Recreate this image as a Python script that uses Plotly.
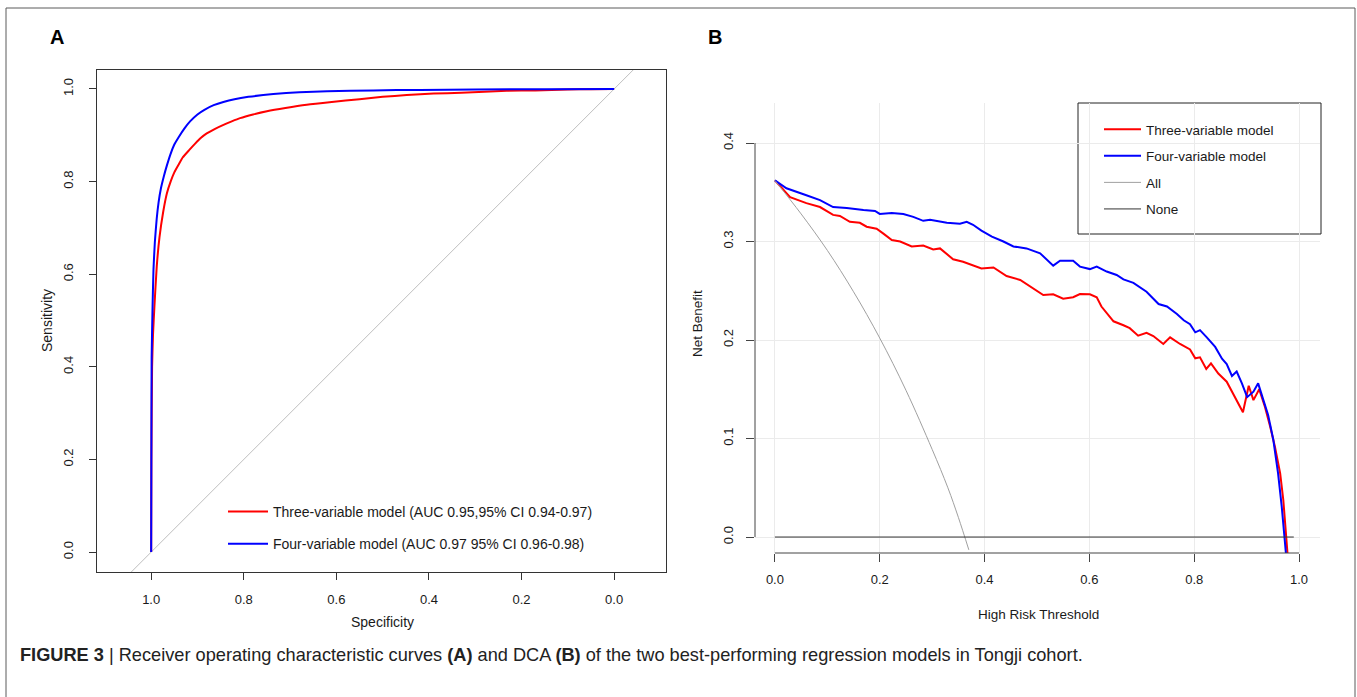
import plotly.graph_objects as go

W, H = 1357, 697

# ---------------- Panel A: ROC data ----------------
roc3_spec = [1.000, 0.9995, 0.998, 0.996, 0.993, 0.988, 0.982, 0.974, 0.966, 0.958, 0.950, 0.940,
             0.932, 0.918, 0.905, 0.893, 0.880, 0.862, 0.845, 0.826, 0.808, 0.780, 0.750, 0.710,
             0.664, 0.610, 0.550, 0.500, 0.448, 0.390, 0.330, 0.280, 0.232, 0.170, 0.100, 0.050, 0.000]
roc3_sens = [0.000, 0.200, 0.400, 0.470, 0.530, 0.616, 0.680, 0.735, 0.775, 0.800, 0.820, 0.838,
             0.852, 0.868, 0.882, 0.894, 0.904, 0.914, 0.922, 0.930, 0.937, 0.945, 0.952, 0.959,
             0.966, 0.972, 0.978, 0.983, 0.987, 0.990, 0.992, 0.994, 0.996, 0.997, 0.999, 0.9995, 1.000]

roc4_spec = [1.000, 0.9995, 0.999, 0.997, 0.995, 0.992, 0.988, 0.984, 0.979, 0.973, 0.966, 0.958,
             0.950, 0.940, 0.928, 0.916, 0.900, 0.885, 0.865, 0.844, 0.820, 0.790, 0.736, 0.680,
             0.620, 0.520, 0.420, 0.300, 0.150, 0.000]
roc4_sens = [0.000, 0.250, 0.420, 0.530, 0.610, 0.670, 0.720, 0.755, 0.785, 0.810, 0.835, 0.860,
             0.880, 0.897, 0.915, 0.930, 0.945, 0.955, 0.965, 0.972, 0.978, 0.983, 0.989, 0.993,
             0.995, 0.997, 0.998, 0.999, 0.9995, 1.000]

diag_spec = [1.3, -0.3]
diag_sens = [-0.3, 1.3]

roc_ticks = [1.0, 0.8, 0.6, 0.4, 0.2, 0.0]
roc_yticks = [0.0, 0.2, 0.4, 0.6, 0.8, 1.0]

label3_roc = "Three-variable model (AUC 0.95,95% CI 0.94-0.97)"
label4_roc = "Four-variable model (AUC 0.97 95% CI 0.96-0.98)"

# ---------------- Panel B: DCA data ----------------
dca3_t = [0.000, 0.029, 0.060, 0.086, 0.111, 0.124, 0.143, 0.162, 0.175, 0.194, 0.207, 0.223,
          0.239, 0.261, 0.283, 0.302, 0.315, 0.340, 0.359, 0.372, 0.394, 0.417, 0.442, 0.468,
          0.487, 0.512, 0.531, 0.550, 0.569, 0.582, 0.601, 0.614, 0.623, 0.646, 0.665, 0.677,
          0.693, 0.703, 0.709, 0.722, 0.741, 0.754, 0.773, 0.792, 0.802, 0.811, 0.823, 0.832,
          0.846, 0.862, 0.872, 0.881, 0.893, 0.904, 0.913, 0.924, 0.935, 0.945, 0.954, 0.964,
          0.970, 0.975, 0.978]
dca3_nb = [0.362, 0.345, 0.339, 0.335, 0.327, 0.326, 0.320, 0.319, 0.315, 0.313, 0.308, 0.3015,
           0.300, 0.295, 0.296, 0.292, 0.293, 0.282, 0.2795, 0.277, 0.2727, 0.2737, 0.265, 0.261,
           0.254, 0.2457, 0.2464, 0.242, 0.2434, 0.2467, 0.2464, 0.2434, 0.234, 0.219, 0.215, 0.212,
           0.2044, 0.206, 0.2074, 0.204, 0.196, 0.2027, 0.196, 0.1905, 0.1814, 0.1824, 0.1706, 0.1763,
           0.166, 0.1577, 0.1476, 0.1398, 0.1266, 0.1536, 0.139, 0.150, 0.132, 0.112, 0.0917, 0.0647,
           0.0376, 0.0037, -0.0166]

dca4_t = [0.000, 0.022, 0.060, 0.086, 0.111, 0.137, 0.169, 0.191, 0.200, 0.223, 0.245, 0.264,
          0.283, 0.296, 0.328, 0.353, 0.366, 0.378, 0.394, 0.414, 0.436, 0.455, 0.480, 0.506,
          0.531, 0.544, 0.569, 0.582, 0.601, 0.614, 0.633, 0.652, 0.665, 0.684, 0.709, 0.732,
          0.748, 0.767, 0.780, 0.792, 0.802, 0.811, 0.824, 0.840, 0.853, 0.862, 0.872, 0.881,
          0.891, 0.901, 0.913, 0.922, 0.932, 0.941, 0.951, 0.960, 0.967, 0.971, 0.975]
dca4_nb = [0.362, 0.354, 0.347, 0.342, 0.335, 0.334, 0.332, 0.331, 0.328, 0.329, 0.328, 0.325,
           0.321, 0.322, 0.319, 0.318, 0.320, 0.317, 0.311, 0.305, 0.300, 0.295, 0.293, 0.288,
           0.2755, 0.2805, 0.2805, 0.2745, 0.272, 0.2745, 0.2695, 0.266, 0.2616, 0.258, 0.249, 0.2365,
           0.234, 0.2264, 0.220, 0.216, 0.2078, 0.210, 0.2027, 0.193, 0.181, 0.1756, 0.1635, 0.168,
           0.156, 0.142, 0.1476, 0.156, 0.139, 0.124, 0.0985, 0.0647, 0.0308, 0.0037, -0.0166]

all_t = [0.00, 0.05, 0.10, 0.15, 0.20, 0.25, 0.30, 0.33, 0.35, 0.37]
all_nb = [0.362, 0.328, 0.291, 0.249, 0.202, 0.149, 0.089, 0.050, 0.020, -0.013]

none_t = [0.00, 0.99]
none_nb = [0.0, 0.0]

dca_xticks = [0.0, 0.2, 0.4, 0.6, 0.8, 1.0]
dca_yticks = [0.0, 0.1, 0.2, 0.3, 0.4]

# ---------------- helpers ----------------
def px_x(p):
    return p / W

def px_y(p):
    return 1 - p / H

FONT = "Liberation Sans, Arial, Helvetica, sans-serif"
TXT = "#1a1a1a"
RED = "#FF0000"
BLUE = "#0000FF"

fig = go.Figure()

# Panel A traces
fig.add_trace(go.Scatter(x=diag_spec, y=diag_sens, mode="lines", line=dict(color="#BEBEBE", width=1),
                         showlegend=False, hoverinfo="skip", xaxis="x", yaxis="y"))
fig.add_trace(go.Scatter(x=roc3_spec, y=roc3_sens, mode="lines",
                         line=dict(color=RED, width=2, shape="spline", smoothing=0.5),
                         name=label3_roc, legend="legend", legendgroup="a3", xaxis="x", yaxis="y"))
fig.add_trace(go.Scatter(x=roc4_spec, y=roc4_sens, mode="lines",
                         line=dict(color=BLUE, width=2, shape="spline", smoothing=0.5),
                         name=label4_roc, legend="legend", legendgroup="a4", xaxis="x", yaxis="y"))

# Panel B traces
fig.add_trace(go.Scatter(x=dca3_t, y=dca3_nb, mode="lines", line=dict(color=RED, width=2),
                         name="Three-variable model", legend="legend2", legendgroup="b1",
                         xaxis="x2", yaxis="y2"))
fig.add_trace(go.Scatter(x=dca4_t, y=dca4_nb, mode="lines", line=dict(color=BLUE, width=2),
                         name="Four-variable model", legend="legend2", legendgroup="b2",
                         xaxis="x2", yaxis="y2"))
fig.add_trace(go.Scatter(x=all_t, y=all_nb, mode="lines", line=dict(color="#A0A0A0", width=1, shape="spline"),
                         name="All", legend="legend2", legendgroup="b3", xaxis="x2", yaxis="y2"))
fig.add_trace(go.Scatter(x=none_t, y=none_nb, mode="lines", line=dict(color="#333333", width=1),
                         name="None", legend="legend2", legendgroup="b4", xaxis="x2", yaxis="y2"))

# Axes A
a_left, a_right, a_top, a_bot = 97, 666, 70, 572
tickfmt = lambda v: f"{v:.1f}"
fig.update_layout(
    xaxis=dict(domain=[px_x(a_left), px_x(a_right)], range=[1.117, -0.112], anchor="y",
               tickmode="array", tickvals=roc_ticks, ticktext=[tickfmt(v) for v in roc_ticks],
               ticks="outside", ticklen=7, tickcolor="#333", tickwidth=1,
               showline=True, mirror=True, linecolor="#333", linewidth=1,
               showgrid=False, zeroline=False, ticklabelstandoff=8,
               tickfont=dict(family=FONT, size=13, color=TXT)),
    yaxis=dict(domain=[px_y(a_bot), px_y(a_top)], range=[-0.043, 1.041], anchor="x",
               tickmode="array", tickvals=roc_yticks, ticktext=[tickfmt(v) for v in roc_yticks],
               ticks="outside", ticklen=7, tickcolor="#333", tickwidth=1, tickangle=-90,
               showline=True, mirror=True, linecolor="#333", linewidth=1,
               showgrid=False, zeroline=False, ticklabelstandoff=11,
               tickfont=dict(family=FONT, size=13, color=TXT)),
)

# Axes B
b_left, b_right, b_top, b_bot = 755, 1320, 103, 553
fig.update_layout(
    xaxis2=dict(domain=[px_x(b_left), px_x(b_right)], range=[-0.038, 1.040], anchor="y2",
                tickmode="array", tickvals=dca_xticks, ticktext=[tickfmt(v) for v in dca_xticks],
                ticks="outside", ticklen=8, tickcolor="#444", tickwidth=1,
                showline=False, showgrid=True, gridcolor="#EBEBEB", gridwidth=1,
                zeroline=False, ticklabelstandoff=6,
                tickfont=dict(family=FONT, size=13, color=TXT)),
    yaxis2=dict(domain=[px_y(b_bot), px_y(b_top)], range=[-0.0162, 0.4406], anchor="x2",
                tickmode="array", tickvals=dca_yticks, ticktext=[tickfmt(v) for v in dca_yticks],
                ticks="outside", ticklen=8, tickcolor="#444", tickwidth=1, tickangle=-90,
                showline=False, showgrid=True, gridcolor="#EBEBEB", gridwidth=1,
                zeroline=False, ticklabelstandoff=8,
                tickfont=dict(family=FONT, size=13, color=TXT)),
)

shapes = [
    # outer frame
    dict(type="rect", xref="paper", yref="paper", x0=px_x(6), x1=px_x(1355), y0=-0.05, y1=px_y(8),
         line=dict(color="#5a5a5a", width=1), fillcolor="rgba(0,0,0,0)", layer="above"),
    # R-style axis lines for panel B, spanning first to last tick
    dict(type="line", xref="x2", yref="paper", x0=min(dca_xticks), x1=max(dca_xticks),
         y0=px_y(b_bot), y1=px_y(b_bot), line=dict(color="#444", width=1)),
    dict(type="line", xref="paper", yref="y2", x0=px_x(b_left), x1=px_x(b_left),
         y0=min(dca_yticks), y1=max(dca_yticks), line=dict(color="#444", width=1)),
    # legend box for panel B
    dict(type="rect", xref="paper", yref="paper", x0=px_x(1078), x1=px_x(1321), y0=px_y(234), y1=px_y(103),
         line=dict(color="#222", width=1), fillcolor="white", layer="below"),
]

annotations = [
    dict(text="<b>A</b>", x=px_x(48), y=px_y(37), xref="paper", yref="paper", xanchor="left", yanchor="middle",
         showarrow=False, font=dict(family=FONT, size=20, color="#000")),
    dict(text="<b>B</b>", x=px_x(706), y=px_y(37), xref="paper", yref="paper", xanchor="left", yanchor="middle",
         showarrow=False, font=dict(family=FONT, size=20, color="#000")),
    dict(text="Specificity", x=px_x(382), y=px_y(622), xref="paper", yref="paper", xanchor="center",
         yanchor="middle", showarrow=False, font=dict(family=FONT, size=14, color=TXT)),
    dict(text="Sensitivity", x=px_x(47), y=px_y(321), xref="paper", yref="paper", xanchor="center",
         yanchor="middle", textangle=-90, showarrow=False, font=dict(family=FONT, size=14, color=TXT)),
    dict(text="High Risk Threshold", x=px_x(1038), y=px_y(614), xref="paper", yref="paper", xanchor="center",
         yanchor="middle", showarrow=False, font=dict(family=FONT, size=13.5, color=TXT)),
    dict(text="Net Benefit", x=px_x(697), y=px_y(324), xref="paper", yref="paper", xanchor="center",
         yanchor="middle", textangle=-90, showarrow=False, font=dict(family=FONT, size=13.5, color=TXT)),
    dict(text="<b>FIGURE 3</b> | Receiver operating characteristic curves <b>(A)</b> and DCA <b>(B)</b> "
              "of the two best-performing regression models in Tongji cohort.",
         x=px_x(18), y=px_y(655), xref="paper", yref="paper", xanchor="left", yanchor="middle",
         showarrow=False, font=dict(family=FONT, size=18.2, color="#222")),
]

fig.update_layout(
    width=W, height=H, margin=dict(l=0, r=0, t=0, b=0),
    paper_bgcolor="white", plot_bgcolor="white",
    font=dict(family=FONT, color=TXT),
    shapes=shapes, annotations=annotations,
    legend=dict(x=px_x(223), y=px_y(496), xanchor="left", yanchor="top", bgcolor="rgba(0,0,0,0)",
                borderwidth=0, itemwidth=40, tracegroupgap=11,
                font=dict(family=FONT, size=14, color=TXT)),
    legend2=dict(x=px_x(1099), y=px_y(114), xanchor="left", yanchor="top", bgcolor="rgba(0,0,0,0)",
                 borderwidth=0, itemwidth=37, tracegroupgap=6,
                 font=dict(family=FONT, size=13.5, color=TXT)),
    hovermode=False,
)

fig.write_html("out.html", config={"displayModeBar": False},
               post_script="document.body.style.margin='0px';document.body.style.padding='0px';")
